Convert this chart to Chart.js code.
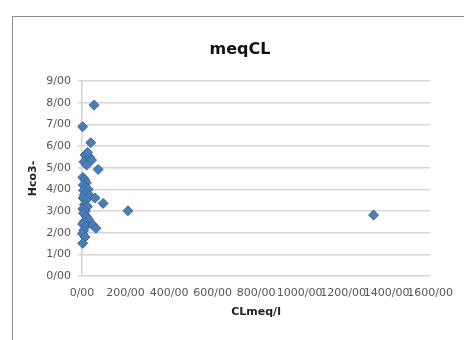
<!DOCTYPE html>
<html>
<head>
<meta charset="utf-8">
<script src="https://cdn.jsdelivr.net/npm/chart.js@4/dist/chart.umd.min.js"></script>
<style>
  html, body { margin: 0; padding: 0; background: #fff; overflow: hidden; }
  #wrap { position: relative; width: 464px; height: 340px; }
  #frame { position: absolute; left: 12px; top: 16px; width: 480px; height: 360px;
           border: 1px solid #8c8c8c; box-sizing: border-box; }
  canvas { position: absolute; left: 0; top: 0; }
</style>
</head>
<body>
<div id="wrap">
  <div id="frame"></div>
  <canvas id="c" width="464" height="340"></canvas>
</div>
<script>
// Chloride (meq/l) against bicarbonate for each sample
const clMeq = [56, 3, 40, 14, 33, 9, 44, 21, 26, 74,
               4, 12, 20, 6, 16, 28, 8, 22, 10, 35,
               5, 18, 59, 97, 12, 25, 4, 15, 211, 1340,
               7, 20, 30, 10, 3, 18, 50, 64, 8, 2,
               14, 3];
const hco3 = [7.89, 6.89, 6.15, 5.58, 5.5, 5.27, 5.35, 5.12, 5.7, 4.92,
              4.55, 4.45, 4.3, 4.2, 4.1, 4.0, 3.95, 3.85, 3.75, 3.7,
              3.6, 3.5, 3.6, 3.35, 3.3, 3.2, 3.1, 3.0, 3.01, 2.81,
              2.9, 2.75, 2.6, 2.5, 2.4, 2.3, 2.35, 2.2, 2.1, 1.95,
              1.8, 1.51];

const xTickLabels = ['0/00', '200/00', '400/00', '600/00', '800/00',
                     '1000/00', '1200/00', '1400/00', '1600/00'];
const yTickLabels = ['0/00', '1/00', '2/00', '3/00', '4/00',
                     '5/00', '6/00', '7/00', '8/00', '9/00'];

const chartTitle = 'meqCL';

const points = clMeq.map((x, i) => ({ x: x, y: hco3[i] }));

const tickFont = { family: 'DejaVu Sans', size: 11 };
const gridColor = '#d6d6d6';

// Title centred on the whole chart frame rather than on the plot area
const frameTitle = {
  id: 'frameTitle',
  afterDraw(chart) {
    const ctx = chart.ctx;
    ctx.save();
    ctx.font = 'bold 16px "DejaVu Sans"';
    ctx.fillStyle = '#111';
    ctx.textAlign = 'center';
    ctx.textBaseline = 'middle';
    ctx.fillText(chartTitle, 240, 50);
    ctx.restore();
  }
};

new Chart(document.getElementById('c'), {
  type: 'scatter',
  data: {
    datasets: [{
      label: chartTitle,
      data: points,
      pointStyle: 'rectRot',
      pointRadius: 5,
      pointHoverRadius: 5,
      backgroundColor: '#4a7ebb',
      borderColor: '#3a6698',
      borderWidth: 1,
      clip: false
    }]
  },
  plugins: [frameTitle],
  options: {
    responsive: false,
    animation: false,
    events: [],
    layout: { padding: { left: 13, right: 31, top: 81, bottom: 0 } },
    plugins: {
      legend: { display: false },
      tooltip: { enabled: false },
      title: { display: false }
    },
    scales: {
      x: {
        type: 'linear',
        min: 0,
        max: 1600,
        afterFit: (s) => { s.height = 64; },
        grid: { display: false, drawTicks: false },
        border: { display: false },
        ticks: {
          stepSize: 200,
          autoSkip: false,
          maxRotation: 0,
          minRotation: 0,
          padding: 11,
          color: '#555',
          font: tickFont,
          callback: (v) => xTickLabels[Math.round(v / 200)]
        },
        title: {
          display: true,
          text: 'CLmeq/l',
          color: '#222',
          font: { family: 'DejaVu Sans', size: 11, weight: 'bold' },
          padding: { top: 0, bottom: 21 }
        }
      },
      y: {
        type: 'linear',
        min: 0,
        max: 9,
        afterFit: (s) => { s.width = 69; },
        grid: { color: gridColor, lineWidth: 1.5, drawTicks: true, tickLength: 4 },
        border: { display: true, color: '#d9cfcf', width: 1.5 },
        ticks: {
          stepSize: 1,
          padding: 7,
          color: '#555',
          font: tickFont,
          callback: (v) => yTickLabels[Math.round(v)]
        },
        title: {
          display: true,
          text: 'Hco3-',
          color: '#222',
          font: { family: 'DejaVu Sans', size: 11, weight: 'bold' },
          padding: { top: 14, bottom: 0 }
        }
      }
    }
  }
});
</script>
</body>
</html>
